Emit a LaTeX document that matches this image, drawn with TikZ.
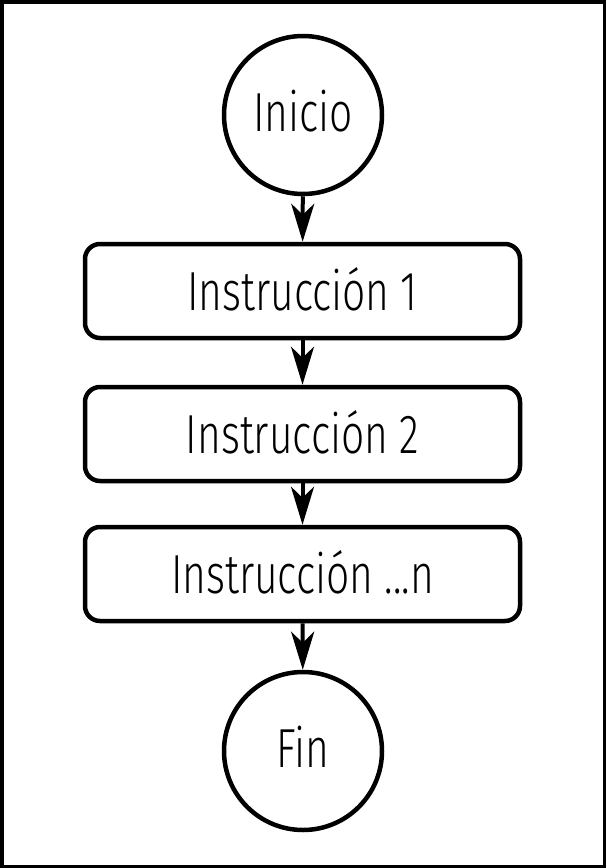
\documentclass[tikz,border=0pt]{standalone}
\usepackage{fontspec}
\setmainfont{Fira Sans}[UprightFont=* Light,FakeStretch=0.74]
\usetikzlibrary{arrows.meta}
\begin{document}
\begin{tikzpicture}[x=1pt,y=-1pt,
  lw/.style={line width=4.5pt},
  term/.style={circle,draw,lw,minimum size=158pt,inner sep=0pt,text height=33pt,text depth=0pt,font=\fontsize{55}{60}\selectfont},
  instr/.style={draw,lw,rounded corners=15pt,minimum width=435pt,minimum height=94pt,inner sep=0pt,text height=38pt,text depth=0pt,font=\fontsize{55}{60}\selectfont},
  conn/.style={line width=4pt,-{Stealth[length=38pt,width=23pt,inset=11pt]}}]
\useasboundingbox (0,0) rectangle (606,868);
\draw[line width=3.5pt] (1.75,1.75) rectangle (604.25,866.25);
\node[term] (ini) at (303,115) {Inicio};
\node[instr] (i1) at (302.5,291) {Instrucción 1};
\node[instr] (i2) at (302.5,434) {Instrucción 2};
\node[instr] (i3) at (302.5,574) {Instrucción ...n};
\node[term] (fin) at (303,751) {Fin};
\draw[conn] (ini) -- (i1);
\draw[conn] (i1) -- (i2);
\draw[conn] (i2) -- (i3);
\draw[conn] (i3) -- (fin);
\end{tikzpicture}
\end{document}
